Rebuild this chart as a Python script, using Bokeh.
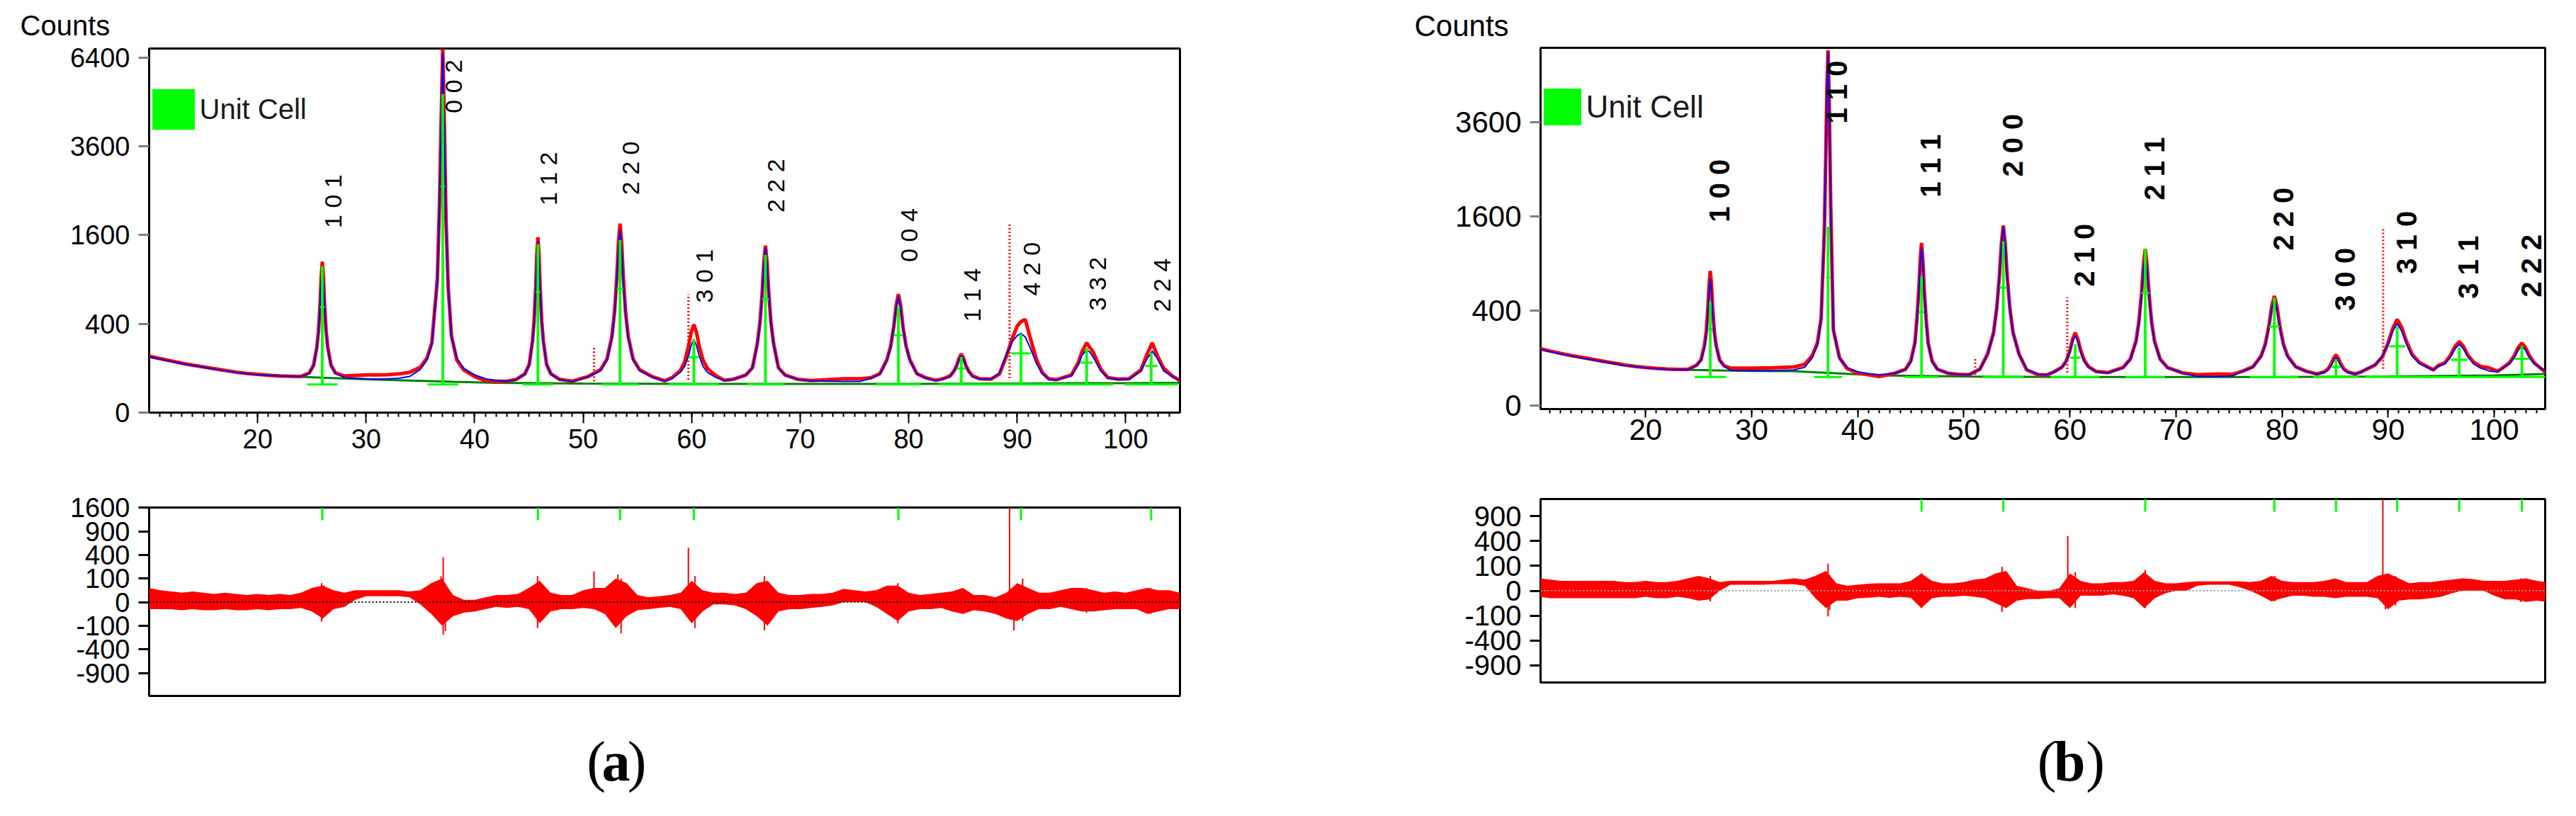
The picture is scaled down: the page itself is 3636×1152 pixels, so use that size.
import numpy as np
from bokeh.plotting import figure
from bokeh.layouts import row, column
from bokeh.models import FixedTicker, Span, Legend, LegendItem, Range1d
from bokeh.core.properties import value
from bokeh.embed import file_html
from bokeh.resources import INLINE

SANS = "Liberation Sans"
SERIF = "Liberation Serif"

# ------------------------------------------------------------------ panel (a)
two_theta_a = [10, 11, 12, 13, 14, 15, 16, 17, 18, 19, 20, 21, 22, 23, 24,
               24.76, 25.16, 25.46, 25.61, 25.76, 25.86, 25.96, 26.06, 26.16, 26.31, 26.46, 26.76, 27.16,
               28, 29, 30, 31, 32, 33, 34,
               35.0, 35.6, 36.06, 36.56, 36.76, 36.91, 37.06, 37.21, 37.36, 37.56, 37.86, 38.36, 39.0, 40.0, 41.0, 42.0, 43.0,
               43.83, 44.63, 45.03, 45.33, 45.48, 45.63, 45.73, 45.83, 45.93, 46.03, 46.18, 46.33, 46.63, 47.03, 47.83,
               49.0,
               50.4, 51.6, 52.2, 52.65, 52.9, 53.1, 53.25, 53.4, 53.55, 53.7, 53.9, 54.15, 54.6, 55.2, 56.4,
               57.5,
               58.2, 58.95, 59.35, 59.7, 59.95, 60.2, 60.45, 60.7, 61.05, 61.45, 62.2,
               63.0,
               63.8, 65.0, 65.6, 66.05, 66.3, 66.5, 66.65, 66.8, 66.95, 67.1, 67.3, 67.55, 68.0, 68.6, 69.8,
               71.0, 72.5, 74.0, 75.5,
               76.55, 77.35, 78.0, 78.35, 78.63, 78.84, 79.05, 79.26, 79.47, 79.75, 80.1, 80.75, 81.55,
               82.5,
               83.15, 83.8, 84.15, 84.43, 84.64, 84.85, 85.06, 85.27, 85.55, 85.9, 86.55,
               87.6, 88.36, 89.0, 89.55, 90.0, 90.35, 90.74, 91.18, 91.8, 92.3, 92.9,
               93.6, 95.0, 95.66, 95.95, 96.4, 96.7, 97.0, 97.7, 98.35, 99.3,
               100.3, 101.4, 101.95, 102.45, 102.95, 103.5, 104.3, 105.0]
obs_a = [162, 148, 136, 124, 114, 106, 98, 90, 83, 78, 74, 71, 68, 67, 66,
         80, 115, 219, 338, 611, 938, 1156, 938, 611, 338, 219, 115, 80,
         68, 70, 72, 72, 73, 76, 82,
         105, 150, 250, 900, 2200, 4300, 6700, 4200, 1900, 800, 300, 140, 92, 66, 52, 50, 50,
         56, 76, 118, 261, 427, 805, 1258, 1560, 1258, 805, 427, 261, 118, 76, 56,
         50,
         65, 93, 146, 296, 525, 930, 1458, 1810, 1458, 930, 525, 296, 146, 93, 65,
         51,
         62, 90, 130, 222, 325, 394, 325, 222, 140, 99, 70,
         53,
         56, 72, 102, 242, 419, 733, 1142, 1415, 1142, 733, 419, 242, 102, 72, 56,
         52, 55, 58, 58,
         62, 77, 143, 228, 380, 579, 711, 579, 380, 228, 143, 77, 62,
         53,
         58, 68, 86, 113, 150, 174, 150, 113, 86, 68, 58,
         57, 75, 160, 280, 380, 420, 441, 290, 140, 82, 58,
         55, 72, 130, 185, 247, 215, 186, 96, 62, 57,
         58, 92, 171, 247, 160, 100, 68, 52]
calc_a = [158, 145, 133, 122, 113, 104, 96, 89, 82, 77, 73, 70, 68, 67, 66,
          79, 112, 211, 325, 583, 893, 1100, 893, 583, 325, 210, 112, 79,
          62, 60, 58, 57, 58, 60, 66,
          95, 140, 240, 880, 2150, 4200, 6560, 4100, 1850, 780, 290, 150, 100, 72, 58, 52, 50,
          55, 75, 115, 252, 412, 775, 1210, 1500, 1210, 775, 412, 252, 115, 75, 55,
          49,
          64, 90, 140, 280, 495, 875, 1370, 1700, 1370, 875, 495, 280, 140, 90, 64,
          50,
          60, 82, 108, 161, 228, 272, 228, 161, 108, 82, 63,
          52,
          56, 71, 100, 237, 410, 716, 1114, 1380, 1114, 716, 410, 237, 100, 71, 56,
          51, 50, 49, 49,
          60, 76, 140, 223, 370, 562, 690, 562, 370, 223, 140, 76, 60,
          52,
          57, 66, 83, 109, 143, 165, 143, 109, 83, 66, 57,
          58, 78, 171, 256, 300, 318, 290, 216, 119, 78, 56,
          54, 69, 119, 165, 200, 185, 157, 88, 61, 56,
          56, 88, 145, 192, 145, 88, 65, 53]

hkl_a = ["1 0 1", "0 0 2", "1 1 2", "2 2 0", "3 0 1", "2 2 2", "0 0 4", "1 1 4", "4 2 0", "3 3 2", "2 2 4"]
peak_pos_a = [25.96, 37.06, 45.83, 53.40, 60.20, 66.80, 79.05, 84.85, 90.35, 96.40, 102.35]
unit_cell_a = [1090, 5150, 1440, 1513, 272, 1264, 567, 157, 316, 213, 182]
fwhm_a = [0.4, 0.4, 0.4, 0.6, 1.0, 0.6, 0.84, 0.84, 1.8, 1.1, 1.1]
label_y_a = [1728, 4551, 2176, 2404, 612, 2031, 1152, 418, 693, 528, 514]
unit_base_a = 40

outlier_x_a = [51.0, 59.7, 89.3]
outlier_top_a = [223, 711, 1810]
outlier_base_a = [50, 55, 60]

bg_x_a = [10, 14, 18, 22, 26, 30, 34, 38, 42, 50, 60, 70, 80, 90, 100, 105]
bg_a = [157, 113, 82, 68, 62, 56, 52, 48, 45, 43, 42, 42, 42, 43, 44, 45]

res_x = list(range(10, 106))
res_hi_a = [36, 25, 20, 16, 20, 16, 12, 16, 12, 9,
            12, 9, 12, 9, 16, 36, 49, 25, 16, 25,
            25, 25, 25, 25, 20, 25, 64, 100, 9, 1,
            1, 4, 9, 9, 12, 36, 81, 16, 9, 9,
            25, 36, 36, 100, 64, 9, 4, 6, 9, 16,
            81, 25, 16, 16, 12, 16, 64, 81, 16, 9,
            9, 12, 12, 16, 32, 25, 20, 25, 49, 49,
            16, 9, 12, 16, 20, 36, 9, 9, 4, 16,
            64, 36, 16, 16, 25, 36, 36, 25, 16, 20,
            16, 25, 36, 25, 25, 16]
res_lo_a = [-9, -9, -9, -12, -9, -12, -12, -9, -12, -12,
            -9, -12, -9, -9, -6, -16, -49, -9, -4, 1,
            6, 6, 6, 6, 4, -1, -25, -100, -36, -20,
            -16, -9, -4, -6, -4, -9, -81, -16, -9, -9,
            -6, -9, -25, -121, -36, -12, -9, -6, -4, -9,
            -81, -16, -1, -1, -2, -9, -36, -100, -16, -9,
            -9, -6, -4, -2, 0, 0, 0, -4, -25, -64,
            -16, -9, -9, -6, -16, -25, -12, -16, -25, -49,
            -64, -25, -9, -9, -4, -9, -16, -16, -12, -9,
            -9, -9, -25, -16, -9, -9]
burst_x_a = [25.9, 26.1, 36.9, 37.1, 37.3, 45.8, 46.0, 51.0, 53.2, 53.5, 59.7, 60.3, 66.7, 79.0, 89.3, 89.7, 90.5, 96.4, 102.3]
burst_lo_a = [-69, -40, -60, -190, -150, -121, -60, 0, -100, -177, 0, -121, -144, -81, 0, -144, -64, -20, -25]
burst_hi_a = [64, 50, 120, 361, 60, 121, 80, 169, 137, 100, 529, 121, 121, 64, 1600, 0, 100, 36, 36]
marker_x_a = [25.96, 45.83, 53.40, 60.20, 79.05, 90.35, 102.35]

# ------------------------------------------------------------------ panel (b)
two_theta_b = [10, 11, 12, 13, 14, 15, 16, 17, 18, 19, 20, 21, 22, 23, 24,
               24.8, 25.22, 25.55, 25.72, 25.88, 25.99, 26.1, 26.21, 26.32, 26.48, 26.65, 26.98, 27.4,
               28, 30, 32, 34,
               35.0, 35.7, 36.2, 36.55, 36.86, 37.0, 37.1, 37.2, 37.3, 37.45, 37.7, 38.27, 39.0, 40.0, 41.0, 42.0,
               43.5, 44.5, 45.0, 45.39, 45.58, 45.76, 45.89, 46.01, 46.13, 46.26, 46.44, 46.63, 47.01, 47.51, 48.51,
               49.5, 50.5,
               51.52, 52.24, 52.8, 53.1, 53.35, 53.54, 53.72, 53.9, 54.09, 54.34, 54.64, 55.2, 55.92, 57.0,
               57.8,
               58.5, 59.25, 59.65, 60.0, 60.25, 60.5, 60.75, 61.0, 61.35, 61.75, 62.5,
               63.6, 65.0, 65.7, 66.23, 66.5, 66.75, 66.93, 67.1, 67.27, 67.45, 67.7, 67.97, 68.5, 69.2, 70.6,
               72.0, 74.0, 75.3,
               76.27, 77.27, 78.02, 78.42, 78.77, 79.02, 79.27, 79.52, 79.77, 80.12, 80.52, 81.27, 82.27,
               83.28, 83.98, 84.33, 84.63, 84.86, 85.08, 85.3, 85.53, 85.83, 86.18, 86.88,
               87.45, 88.75, 89.45, 90.0, 90.43, 90.85, 91.27, 91.7, 92.25, 92.95, 94.25,
               94.7, 95.35, 95.9, 96.3, 96.7, 97.1, 97.5, 98.05, 98.7, 99.5, 100.3,
               100.85, 101.43, 101.9, 102.25, 102.6, 102.95, 103.3, 103.77, 104.35, 104.8, 105.0]
obs_b = [145, 132, 121, 111, 103, 95, 87, 80, 73, 68, 64, 61, 59, 58, 58,
         72, 92, 162, 245, 433, 659, 809, 659, 433, 245, 162, 92, 70,
         62, 62, 63, 66,
         75, 110, 175, 342, 1430, 3000, 4600, 5650, 4300, 1800, 256, 102, 60, 47, 42, 37,
         46, 58, 88, 176, 339, 613, 954, 1182, 954, 613, 339, 176, 88, 58, 46,
         43, 42,
         59, 118, 237, 421, 745, 1168, 1450, 1168, 745, 421, 237, 118, 56, 42,
         41,
         50, 65, 88, 135, 195, 236, 195, 138, 91, 67, 51,
         48, 64, 96, 186, 313, 567, 884, 1096, 884, 567, 313, 186, 96, 64, 47,
         42, 44, 43,
         52, 67, 109, 169, 288, 437, 536, 437, 288, 169, 109, 67, 52,
         44, 50, 59, 77, 99, 114, 99, 77, 59, 50, 44,
         50, 72, 105, 175, 265, 331, 273, 186, 117, 82, 56,
         70, 81, 114, 155, 183, 155, 114, 84, 68, 63, 52,
         64, 81, 111, 149, 174, 149, 111, 81, 62, 50, 49]
calc_b = [141, 129, 118, 109, 100, 93, 85, 78, 71, 67, 63, 60, 58, 57, 57,
          70, 90, 150, 224, 391, 591, 724, 591, 391, 224, 150, 90, 68,
          55, 54, 54, 56,
          65, 100, 165, 330, 1400, 2950, 4500, 5600, 4200, 1750, 250, 100, 64, 50, 45, 42,
          46, 58, 85, 170, 323, 580, 903, 1118, 903, 580, 323, 170, 85, 58, 46,
          43, 42,
          58, 116, 234, 415, 734, 1150, 1428, 1150, 734, 415, 234, 116, 58, 44,
          42,
          50, 65, 86, 128, 182, 217, 182, 128, 86, 65, 50,
          47, 63, 93, 178, 298, 538, 837, 1037, 837, 538, 298, 178, 93, 63, 47,
          37, 37, 38,
          52, 66, 106, 162, 275, 415, 509, 415, 275, 162, 106, 66, 52,
          43, 49, 56, 71, 90, 102, 90, 71, 56, 49, 43,
          50, 74, 109, 170, 248, 299, 248, 170, 109, 78, 56,
          68, 77, 106, 143, 167, 143, 106, 77, 62, 53, 50,
          63, 77, 103, 136, 158, 136, 103, 77, 63, 55, 52]

hkl_b = ["1 0 0", "1 1 0", "1 1 1", "2 0 0", "2 1 0", "2 1 1", "2 2 0", "3 0 0", "3 1 0", "3 1 1", "2 2 2"]
peak_pos_b = [26.1, 37.2, 46.01, 53.72, 60.5, 67.1, 79.27, 85.08, 90.85, 96.7, 102.6]
unit_cell_b = [481, 1430, 740, 1205, 167, 1096, 520, 96, 276, 150, 158]
fwhm_b = [0.44, 0.35, 0.5, 0.74, 1.0, 0.7, 1.0, 0.9, 1.5, 1.6, 1.4]
label_y_b = [1503, 3557, 1938, 2341, 630, 1885, 1073, 400, 773, 509, 522]
unit_base_b = 36

outlier_x_b = [51.07, 59.75, 89.53]
outlier_top_b = [96, 522, 1428]
outlier_base_b = [42, 48, 60]

bg_x_b = [10, 14, 18, 22, 26, 30, 34, 38, 42, 50, 60, 70, 80, 90, 100, 105]
bg_b = [141, 100, 71, 58, 55, 53, 52, 46, 40, 37, 36, 36, 36, 37, 40, 44]

res_hi_b = [25, 20, 16, 16, 16, 16, 16, 16, 12, 12,
            16, 12, 12, 16, 25, 36, 25, 12, 16, 16,
            16, 16, 16, 20, 25, 20, 36, 64, 9, 4,
            6, 8, 9, 9, 9, 16, 49, 16, 9, 9,
            12, 20, 25, 49, 64, 4, 1, 0, 0, 1,
            49, 16, 9, 9, 12, 12, 16, 56, 16, 9,
            9, 12, 14, 14, 14, 14, 14, 12, 16, 36,
            16, 12, 12, 12, 16, 25, 12, 12, 12, 36,
            49, 25, 9, 12, 12, 16, 20, 25, 22, 16,
            16, 16, 20, 25, 16, 12]
res_lo_b = [-6, -9, -9, -9, -9, -9, -9, -9, -9, -9,
            -6, -9, -9, -6, -9, -16, -12, 0, 6, 6,
            6, 6, 7, 7, 7, 4, -9, -49, -16, -16,
            -9, -8, -6, -8, -6, -8, -49, -9, -6, -6,
            -4, -6, -9, -25, -49, -16, -11, -11, -9, -9,
            -49, -4, -4, -4, -2, -4, -9, -49, -9, -1,
            0, 0, 4, 6, 6, 6, 2, 0, -4, -18,
            -9, -4, -4, -6, -6, -9, -6, -6, -6, -9,
            -56, -16, -12, -12, -9, -6, -1, 0, 0, 0,
            -4, -12, -12, -20, -16, -20]
burst_x_b = [26.1, 37.2, 37.35, 46.0, 53.6, 59.8, 60.5, 67.1, 79.3, 89.5, 89.75, 90.7, 102.5]
burst_lo_b = [-18, -106, -60, -49, -72, 0, -49, -49, -18, 0, -56, -36, -20]
burst_hi_b = [36, 121, 40, 49, 92, 484, 56, 69, 36, 1369, 0, 36, 25]
marker_x_b = [46.01, 53.72, 67.1, 79.27, 85.08, 90.85, 96.7, 102.6]

# ------------------------------------------------------------------ ticks
x_tick_labels = [20, 30, 40, 50, 60, 70, 80, 90, 100]
y_tick_labels_a = [0, 400, 1600, 3600, 6400]
y_tick_labels_b = [0, 400, 1600, 3600]
res_tick_labels_a = [1600, 900, 400, 100, 0, -100, -400, -900]
res_tick_labels_b = [900, 400, 100, 0, -100, -400, -900]


def sq(v):
    a = np.asarray(v, dtype=float)
    return np.sign(a) * np.sqrt(np.abs(a))


def base_fig(w, h, xr, yr, mb, **kw):
    p = figure(width=w, height=h, x_range=Range1d(*xr), y_range=Range1d(*yr),
               output_backend="svg", toolbar_location=None,
               min_border_left=mb[0], min_border_right=mb[1],
               min_border_top=mb[2], min_border_bottom=mb[3], **kw)
    p.xgrid.visible = False
    p.ygrid.visible = False
    p.outline_line_color = "black"
    p.outline_line_width = 3
    p.outline_line_alpha = 1.0
    p.background_fill_color = "white"
    p.border_fill_color = "white"
    return p


def style_y(ax, labels, fs, standoff, tick_color):
    ticks = [int(round(float(t))) for t in sq(labels)]
    ax.ticker = FixedTicker(ticks=ticks)
    ax.major_label_overrides = {t: str(l) for t, l in zip(ticks, labels)}
    ax.major_tick_out = 15
    ax.major_tick_in = 0
    ax.major_tick_line_color = tick_color
    ax.major_tick_line_width = 3
    ax.minor_tick_line_color = None
    ax.axis_line_color = None
    ax.major_label_text_font = SANS
    ax.major_label_text_font_size = fs
    ax.major_label_text_color = "black"
    ax.major_label_standoff = standoff


def main_panel(w, h, xr, yr, mb, x, obs, calc, bgx, bg, pos, unit, fwhm, ubase, hkl, laby,
               ox, otop, obase, ylabels, fs_tick, fs_lab, lab_style, lab_dx, xt_out, x_standoff,
               title_fs, title_off, title_standoff, leg_loc, leg_glyph, leg_fs):
    p = base_fig(w, h, xr, yr, mb, title="Counts")
    p.title.align = "left"
    p.title.offset = title_off
    p.title.standoff = title_standoff
    p.title.text_font = SANS
    p.title.text_font_size = title_fs
    p.title.text_font_style = "normal"
    p.title.text_color = "black"

    pos = np.asarray(pos, float)
    fw = np.asarray(fwhm, float)
    unit = np.asarray(unit, float)
    base = sq([ubase] * len(pos))

    p.line(bgx, sq(bg), line_color="#008000", line_width=3)
    p.segment(x0=pos - 1.5 * fw - 0.8, y0=base, x1=pos + 1.5 * fw + 0.8, y1=base,
              line_color="#00ff00", line_width=3)
    p.segment(x0=ox, y0=sq(obase), x1=ox, y1=sq(otop), line_color="#ff0000", line_width=3, line_dash="2 3")
    p.line(x, sq(obs), line_color="#ff0000", line_width=5)
    p.line(x, sq(calc), line_color="#0000ff", line_width=2)
    unit_bars = p.vbar(x=pos, width=0.25, bottom=base, top=sq(unit), fill_color="#00ff00", line_color=None)
    half = (unit + ubase) / 2.0
    p.segment(x0=pos - fw / 2, y0=sq(half), x1=pos + fw / 2, y1=sq(half), line_color="#00ff00", line_width=3)

    p.text(x=pos, y=sq(laby), text=hkl, angle=np.pi / 2, text_align="left", text_baseline="middle",
           x_offset=lab_dx, text_font=value(SANS), text_font_size=fs_lab, text_font_style=lab_style,
           text_color="black")

    leg = Legend(items=[LegendItem(label="Unit Cell", renderers=[unit_bars])], location=leg_loc,
                 glyph_width=leg_glyph[0], glyph_height=leg_glyph[1], padding=0, margin=0,
                 label_standoff=0, label_text_font=SANS, label_text_font_size=leg_fs,
                 label_text_color="#1a1a1a", border_line_color=None, background_fill_alpha=0)
    p.add_layout(leg)

    xa = p.xaxis[0]
    xa.ticker = FixedTicker(ticks=x_tick_labels, minor_ticks=list(range(11, 105)))
    xa.major_tick_out = xt_out
    xa.major_tick_in = 0
    xa.minor_tick_out = 6
    xa.minor_tick_in = 0
    xa.major_tick_line_width = 2
    xa.minor_tick_line_width = 2
    xa.major_tick_line_color = "black"
    xa.minor_tick_line_color = "black"
    xa.axis_line_color = None
    xa.major_label_text_font = SANS
    xa.major_label_text_font_size = fs_tick
    xa.major_label_text_color = "black"
    xa.major_label_standoff = x_standoff

    style_y(p.yaxis[0], ylabels, fs_tick, 12, "#7f7f7f")
    return p


def res_panel(w, h, xr, yr, mb, lo, hi, bx, blo, bhi, marks, labels, fs, zero_color):
    p = base_fig(w, h, xr, yr, mb, x_axis_location=None)
    p.varea(x=res_x, y1=sq(lo), y2=sq(hi), fill_color="#ff0000")
    p.segment(x0=bx, y0=sq(blo), x1=bx, y1=sq(bhi), line_color="#ff0000", line_width=2)
    p.add_layout(Span(location=0, dimension="width", line_color=zero_color, line_width=2, line_dash="2 3"))
    p.ray(x=marks, y=[yr[1]] * len(marks), length=18, length_units="screen", angle=-np.pi / 2,
          line_color="#00ff00", line_width=3)
    style_y(p.yaxis[0], labels, fs, 12, "black")
    return p


def caption(w, h, letter, xc, xl, xr_, ymid):
    p = figure(width=w, height=h, x_range=Range1d(0, w), y_range=Range1d(0, h),
               x_axis_location=None, y_axis_location=None, min_border=0,
               output_backend="svg", toolbar_location=None)
    p.grid.visible = False
    p.outline_line_color = None
    p.text(x=[xc], y=[ymid], text=[letter], text_font=value(SERIF), text_font_style="bold",
           text_font_size="80px", text_align="center", text_baseline="middle", text_color="black")
    p.text(x=[xl], y=[ymid], text=["("], text_font=value(SERIF), text_font_size="80px",
           text_align="right", text_baseline="middle", text_color="black")
    p.text(x=[xr_], y=[ymid], text=[")"], text_font=value(SERIF), text_font_size="80px",
           text_align="left", text_baseline="middle", text_color="black")
    return p


WA, WB = 1892, 1728

pa = main_panel(WA, 662, (10, 105), (0, 82), (210, 225, 64, 80),
                two_theta_a, obs_a, calc_a, bg_x_a, bg_a, peak_pos_a, unit_cell_a, fwhm_a, unit_base_a,
                hkl_a, label_y_a, outlier_x_a, outlier_top_a, outlier_base_a, y_tick_labels_a,
                "38px", "34px", "normal", 15, 15, 8, "40px", -182, 22, (-3.5, 392), (75, 72), "40px")
ra = res_panel(WA, 340, (10, 105), (-39.75, 40.05), (209, 227, 54, 20),
               res_lo_a, res_hi_a, burst_x_a, burst_lo_a, burst_hi_a, marker_x_a,
               res_tick_labels_a, "38px", "black")
ca = caption(WA, 134, "a", 857, 838, 878, 62)

pb = main_panel(WB, 662, (10.1, 104.8), (-0.8, 75.7), (281, 27, 67, 85),
                two_theta_b, obs_b, calc_b, bg_x_b, bg_b, peak_pos_b, unit_cell_b, fwhm_b, unit_base_b,
                hkl_b, label_y_b, outlier_x_b, outlier_top_b, outlier_base_b, y_tick_labels_b,
                "42px", "40px", "bold", 13, 12, 2, "42px", -178, 15, (-1.6, 394), (66, 65), "44px")
rb = res_panel(WB, 340, (10.1, 104.8), (-36.9, 36.9), (282, 28, 42, 39),
               res_lo_b, res_hi_b, burst_x_b, burst_lo_b, burst_hi_b, marker_x_b,
               res_tick_labels_b, "40px", "#9a9a9a")
cb = caption(WB, 134, "b", 910, 887, 938, 62)

layout = row(column(pa, ra, ca), column(pb, rb, cb))

open("out.html", "w").write(file_html(layout, INLINE))
